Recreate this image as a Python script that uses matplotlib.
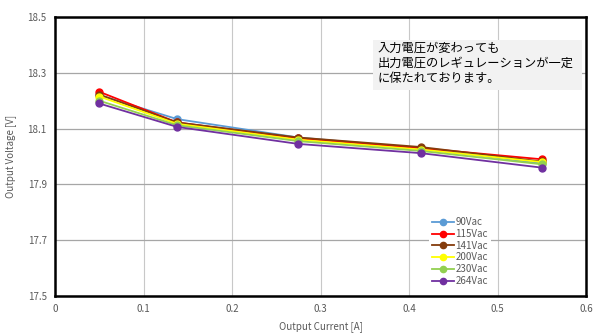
import matplotlib
matplotlib.use("Agg")
import matplotlib.pyplot as plt
from matplotlib.patches import Rectangle

plt.rcParams['font.family'] = ['Noto Sans CJK JP', 'DejaVu Sans']

current = [0.05, 0.138, 0.275, 0.413, 0.55]
series_names = ["90Vac", "115Vac", "141Vac", "200Vac", "230Vac", "264Vac"]
v_90 = [18.220, 18.134, 18.068, 18.030, 17.975]
v_115 = [18.232, 18.122, 18.065, 18.030, 17.990]
v_141 = [18.222, 18.122, 18.068, 18.034, 17.982]
v_200 = [18.215, 18.117, 18.060, 18.025, 17.980]
v_230 = [18.200, 18.112, 18.055, 18.020, 17.972]
v_264 = [18.190, 18.106, 18.045, 18.012, 17.960]
series_values = [v_90, v_115, v_141, v_200, v_230, v_264]
colors = ["#5B9BD5", "#FF0000", "#843C0C", "#FFFF00", "#92D050", "#7030A0"]

x_ticks = [0, 0.1, 0.2, 0.3, 0.4, 0.5, 0.6]
x_ticklabels = ["0", "0.1", "0.2", "0.3", "0.4", "0.5", "0.6"]
y_ticks = [17.5, 17.7, 17.9, 18.1, 18.3, 18.5]
y_ticklabels = ["17.5", "17.7", "17.9", "18.1", "18.3", "18.5"]
note = "入力電圧が変わっても\n出力電圧のレギュレーションが一定\nに保たれております。"

fig = plt.figure(figsize=(6.0, 3.34), dpi=100)
ax = fig.add_axes([0.0917, 0.114, 0.885, 0.835])

for name, vals, c in zip(series_names, series_values, colors):
    ax.plot(current, vals, color=c, lw=1.3, marker="o", ms=5, label=name, zorder=3)

ax.set_xlim(0, 0.6)
ax.set_ylim(17.5, 18.5)
ax.set_xticks(x_ticks)
ax.set_xticklabels(x_ticklabels)
ax.set_yticks(y_ticks)
ax.set_yticklabels(y_ticklabels)
ax.tick_params(length=0, labelsize=7, labelcolor="#595959", pad=6)
ax.xaxis.grid(True, color="#C8C8C8", lw=0.8)
ax.yaxis.grid(True, color="#A6A6A6", lw=0.9)
ax.set_axisbelow(True)
for s in ax.spines.values():
    s.set_color("black")
    s.set_linewidth(1.8)

ax.set_xlabel("Output Current [A]", fontsize=7, color="#595959", labelpad=5)
ax.set_ylabel("Output Voltage [V]", fontsize=7, color="#595959", labelpad=8)

leg = ax.legend(loc="upper left", bbox_to_anchor=(0.695, 0.31), frameon=True,
                fontsize=7, handlelength=2.3, handletextpad=0.1,
                labelspacing=0.18, borderpad=0.3, markerscale=0.9)
leg.get_frame().set_edgecolor("none")
leg.get_frame().set_facecolor("white")
leg.get_frame().set_alpha(1.0)
for t in leg.get_texts():
    t.set_color("#595959")

# annotation box
ax.add_patch(Rectangle((0.599, 0.738), 0.393, 0.18, transform=ax.transAxes,
                       facecolor="#F2F2F2", edgecolor="none", zorder=5))
ax.text(0.608, 0.912, note, transform=ax.transAxes, fontsize=8.8,
        va="top", ha="left", linespacing=1.2, color="black", zorder=6)

fig.savefig("out.png", dpi=100, facecolor="white")
